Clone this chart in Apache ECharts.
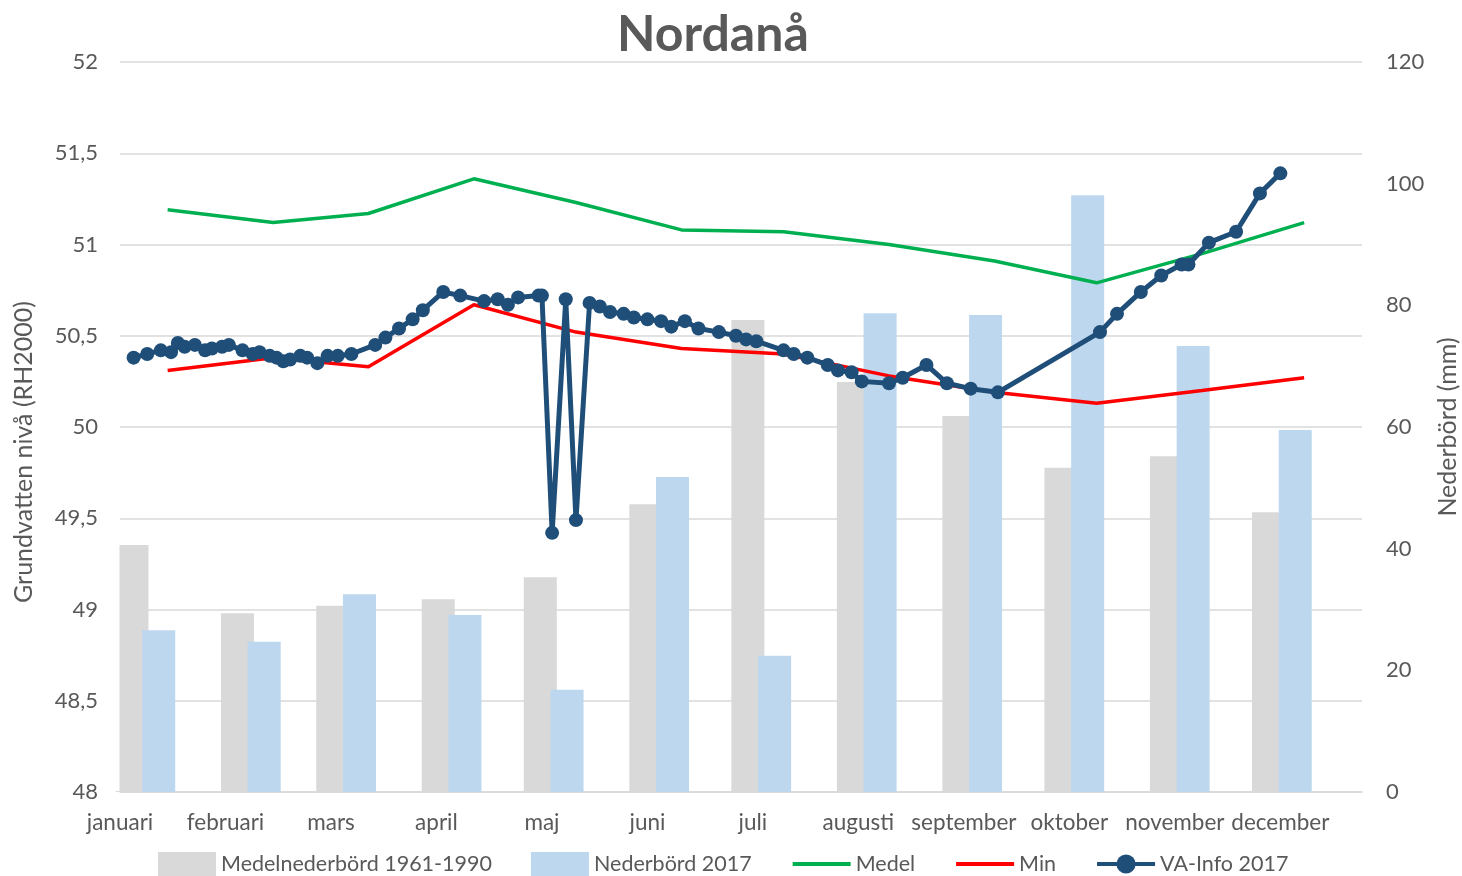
<!DOCTYPE html>
<html>
<head>
<meta charset="utf-8">
<script src="https://cdn.jsdelivr.net/npm/echarts@6/dist/echarts.min.js"></script>
<style>
  html, body { margin: 0; padding: 0; background: #fff; }
  #nordana { width: 1462px; height: 876px; }
</style>
</head>
<body>
<div id="nordana"></div>
<script>
// month labels, one every 31 days on the date axis
var months = ['januari', 'februari', 'mars', 'april', 'maj', 'juni', 'juli',
  'augusti', 'september', 'oktober', 'november', 'december'];

// monthly values are plotted on the 15th (days since 1 Jan)
var midDays = [14, 45, 73, 104, 134, 165, 195, 226, 257, 287, 318, 348];

var medelNederbord = [40.6, 29.4, 30.6, 31.7, 35.3, 47.3, 77.6, 67.4, 61.8, 53.3, 55.2, 46.0];
var nederbord2017 = [26.6, 24.7, 32.5, 29.1, 16.8, 51.8, 22.4, 78.7, 78.4, 98.1, 73.3, 59.5];
var medel = [51.19, 51.12, 51.17, 51.36, 51.23, 51.08, 51.07, 51.00, 50.91, 50.79, 50.95, 51.12];
var minLevel = [50.31, 50.38, 50.33, 50.67, 50.52, 50.43, 50.40, 50.28, 50.19, 50.13, 50.20, 50.27];

// VA-Info 2017 measurements: day of year (0 = 1 Jan) and level
var vaDays = [4, 8, 12, 15, 17, 19, 22, 25, 27, 30, 32, 36, 39, 41, 44, 46, 48, 50, 53, 55,
  58, 61, 64, 68, 75, 78, 82, 86, 89, 95, 100, 107, 111, 114, 117, 123, 124, 127, 131, 134,
  138, 141, 144, 148, 151, 155, 159, 162, 166, 170, 176, 181, 184, 187, 195, 198, 202, 208, 211, 215,
  218, 226, 230, 237, 243, 250, 258, 288, 293, 300, 306, 312, 314, 320, 328, 335, 341];
var vaLevel = [50.38, 50.40, 50.42, 50.41, 50.46, 50.44, 50.45, 50.42, 50.43, 50.44,
  50.45, 50.42, 50.40, 50.41, 50.39, 50.38, 50.36, 50.37, 50.39, 50.38,
  50.35, 50.39, 50.39, 50.40, 50.45, 50.49, 50.54, 50.59, 50.64, 50.74,
  50.72, 50.69, 50.70, 50.67, 50.71, 50.72, 50.72, 49.42, 50.70, 49.49,
  50.68, 50.66, 50.63, 50.62, 50.60, 50.59, 50.58, 50.55, 50.58, 50.54,
  50.52, 50.50, 50.48, 50.47, 50.42, 50.40, 50.38, 50.34, 50.31, 50.30,
  50.25, 50.24, 50.27, 50.34, 50.24, 50.21, 50.19, 50.52, 50.62, 50.74,
  50.83, 50.89, 50.89, 51.01, 51.07, 51.28, 51.39];

function pairs(xs, ys) {
  return xs.map(function (x, i) { return [x, ys[i]]; });
}

var txt = '#595959';
var font = 'Lato';

var chart = echarts.init(document.getElementById('nordana'));

var option = {
  animation: false,
  title: {
    text: 'Nordanå',
    left: 612,
    top: 5,
    textStyle: { fontFamily: font, fontSize: 50, fontWeight: 'bold', color: txt }
  },
  legend: {
    left: 158,
    top: 852,
    padding: 0,
    itemWidth: 58,
    itemHeight: 24,
    itemGap: 39,
    lineStyle: { width: 4 },
    textStyle: { fontFamily: font, fontSize: 21.5, color: txt },
    data: [
      { name: 'Medelnederbörd 1961-1990', icon: 'rect' },
      { name: 'Nederbörd 2017', icon: 'rect' },
      { name: 'Medel', itemStyle: { opacity: 0 } },
      { name: 'Min', itemStyle: { opacity: 0 } },
      { name: 'VA-Info 2017' }
    ]
  },
  // bars on a value axis are not clipped at the plot edge; cover the overhang
  graphic: [{
    type: 'rect',
    z: 100,
    shape: { x: 104, y: 62, width: 15.5, height: 729 },
    style: { fill: '#fff' }
  }],
  grid: { left: 120, right: 100, top: 62, bottom: 84, outerBoundsMode: 'none' },
  xAxis: [
    {
      type: 'value',
      min: 0,
      max: 365,
      interval: 31,
      axisLine: { show: true, lineStyle: { color: '#d9d9d9', width: 1.5 } },
      axisTick: { show: false },
      splitLine: { show: false },
      axisLabel: {
        margin: 19,
        fontFamily: font,
        fontSize: 22.5,
        color: txt,
        formatter: function (v) {
          return v % 31 === 0 ? (months[v / 31] || '') : '';
        }
      }
    },
    {
      // bar groups sit a little before mid-month, as in the original
      type: 'value',
      show: false,
      min: 6.55,
      max: 371.55
    }
  ],
  yAxis: [
    {
      type: 'value',
      min: 48,
      max: 52,
      interval: 0.5,
      name: 'Grundvatten nivå (RH2000)',
      nameLocation: 'middle',
      nameRotate: 90,
      nameGap: 84,
      nameTextStyle: { fontFamily: font, fontSize: 25, color: txt, padding: [0, 50, 0, 0] },
      axisLine: { show: false },
      axisTick: { show: false },
      splitLine: { lineStyle: { color: '#d9d9d9', width: 1.5 } },
      axisLabel: {
        margin: 22,
        fontFamily: font,
        fontSize: 22,
        color: txt,
        formatter: function (v) { return String(v).replace('.', ','); }
      }
    },
    {
      type: 'value',
      min: 0,
      max: 120,
      interval: 20,
      position: 'right',
      name: 'Nederbörd (mm)',
      nameLocation: 'middle',
      nameRotate: 90,
      nameGap: 72,
      nameTextStyle: { fontFamily: font, fontSize: 25, color: txt },
      axisLine: { show: false },
      axisTick: { show: false },
      splitLine: { show: false },
      axisLabel: { margin: 24, fontFamily: font, fontSize: 22, color: txt }
    }
  ],
  series: [
    {
      name: 'Medelnederbörd 1961-1990',
      type: 'bar',
      xAxisIndex: 1,
      yAxisIndex: 1,
      barWidth: 33,
      barGap: '-19%',
      itemStyle: { color: '#d9d9d9' },
      data: pairs(midDays, medelNederbord)
    },
    {
      name: 'Nederbörd 2017',
      type: 'bar',
      xAxisIndex: 1,
      yAxisIndex: 1,
      barWidth: 33,
      barGap: '-19%',
      itemStyle: { color: '#bdd7ee' },
      data: pairs(midDays, nederbord2017)
    },
    {
      name: 'Medel',
      type: 'line',
      symbol: 'none',
      itemStyle: { color: '#00b050' },
      lineStyle: { color: '#00b050', width: 3.5 },
      data: pairs(midDays, medel)
    },
    {
      name: 'Min',
      type: 'line',
      symbol: 'none',
      itemStyle: { color: '#ff0000' },
      lineStyle: { color: '#ff0000', width: 3.5 },
      data: pairs(midDays, minLevel)
    },
    {
      name: 'VA-Info 2017',
      type: 'line',
      symbol: 'circle',
      symbolSize: 14,
      itemStyle: { color: '#1f4e79' },
      lineStyle: { color: '#1f4e79', width: 5 },
      data: pairs(vaDays, vaLevel)
    }
  ]
};

chart.setOption(option);
</script>
</body>
</html>
